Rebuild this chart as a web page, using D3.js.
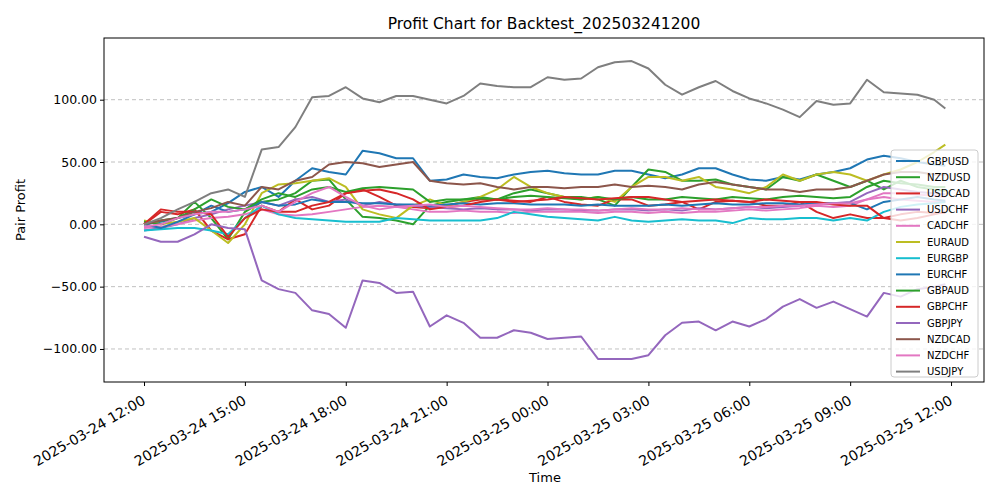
<!DOCTYPE html>
<html lang="en">
<head>
<meta charset="UTF-8">
<title>Profit Chart</title>
<script src="https://d3js.org/d3.v7.min.js"></script>
<style>
  body { margin: 0; background: #fff; }
  text { font-family: "DejaVu Sans", sans-serif; fill: #000; }
  .grid line { stroke: #b0b0b0; stroke-dasharray: 4,3; stroke-width: 0.8; }
  .series { fill: none; stroke-width: 2; stroke-linejoin: round; }
</style>
</head>
<body>
<svg id="chart" width="1000" height="500"></svg>
<script>
    // half-hour samples from 2025-03-24 12:00, last one at 11:50 next day
    const hours = d3.range(0, 24, 0.5).concat([23.83]);

    const pairs = ["GBPUSD","NZDUSD","USDCAD","USDCHF","CADCHF","EURAUD","EURGBP","EURCHF","GBPAUD","GBPCHF","GBPJPY","NZDCAD","NZDCHF","USDJPY"];
    const colors = ["#1f77b4","#2ca02c","#d62728","#9467bd","#e377c2","#bcbd22","#17becf","#1f77b4","#2ca02c","#d62728","#9467bd","#8c564b","#e377c2","#7f7f7f"];

    const GBPUSD = [0,2,5,8,10,17,26,30,22,35,45,42,40,59,57,53,53,35,36,40,38,37,40,42,43,41,40,40,43,43,40,37,40,45,45,40,36,35,38,36,40,42,45,52,55,53,50,48,47];
    const NZDUSD = [0,3,5,18,5,-12,10,18,20,25,35,36,20,6,5,3,0,15,18,20,22,20,25,28,25,22,22,20,15,30,44,42,35,35,36,32,30,28,38,35,40,35,30,35,28,35,30,28,27];
    const USDCAD = [0,10,8,12,-5,-12,-8,15,10,20,12,15,25,28,22,15,14,13,15,18,20,20,19,18,22,18,16,15,20,20,15,16,18,12,18,19,18,15,15,18,10,5,8,5,5,3,5,8,10];
    const USDCHF = [-5,-3,0,5,8,12,15,18,15,20,22,18,20,15,18,16,15,14,13,12,13,12,12,11,12,12,11,11,12,12,11,12,11,13,12,13,14,13,14,15,16,17,18,25,30,28,26,25,24];
    const CADCHF = [-3,-2,0,3,5,6,8,12,8,7,8,10,12,14,15,14,12,10,10,11,10,10,9,10,10,10,10,9,10,10,9,10,9,10,10,11,12,11,12,13,15,14,15,20,22,20,19,18,18];
    const EURAUD = [3,0,2,5,-5,-15,0,25,32,33,35,37,30,12,8,5,15,20,15,18,22,28,38,30,25,22,20,22,18,30,38,38,35,38,30,28,25,30,40,35,40,42,40,35,40,44,50,58,64];
    const EURGBP = [-5,-4,-3,-3,-5,-8,5,15,8,5,4,3,2,2,2,5,4,3,3,3,3,5,10,8,6,5,4,3,6,3,2,3,4,3,3,1,5,4,4,5,5,3,5,3,10,14,16,17,18];
    const EURCHF = [0,-3,2,8,15,10,12,18,15,16,20,18,18,17,17,16,16,15,16,17,16,17,17,16,16,16,15,16,15,15,15,16,15,16,17,16,16,17,17,16,17,17,17,12,18,20,22,20,19];
    const GBPAUD = [2,0,5,12,20,14,12,20,25,22,28,30,26,29,30,29,28,18,20,20,21,20,22,23,22,21,20,22,20,22,20,20,22,21,20,22,21,20,22,23,22,21,22,30,35,33,32,30,30];
    const GBPCHF = [0,12,10,10,8,-10,5,12,10,10,15,18,25,27,28,25,20,12,14,15,18,20,18,19,20,22,21,20,21,22,22,20,18,19,20,19,18,20,19,18,18,16,15,15,5,8,10,9,9];
    const GBPJPY = [-10,-14,-14,-8,0,-3,-4,-45,-52,-55,-69,-72,-83,-45,-47,-55,-54,-82,-73,-79,-91,-91,-85,-87,-92,-91,-90,-108,-108,-108,-105,-89,-79,-78,-85,-78,-82,-76,-66,-60,-67,-62,-68,-74,-55,-58,-52,-50,-48];
    const NZDCAD = [0,3,5,10,13,18,15,30,28,35,38,48,50,49,46,48,50,35,33,32,33,30,28,30,30,29,30,30,32,30,31,30,28,32,34,32,30,28,28,26,28,28,30,35,40,42,42,40,40];
    const NZDCHF = [-2,0,5,8,10,10,12,15,10,18,25,30,22,15,12,14,15,16,14,15,14,13,12,12,13,12,12,11,12,13,12,12,13,12,12,13,14,14,15,15,16,17,17,20,25,25,24,23,22];
    const USDJPY = [0,5,12,18,25,28,22,60,62,78,102,103,110,101,98,103,103,100,97,103,113,111,110,110,118,116,117,126,130,131,125,112,104,110,115,107,101,97,92,86,99,96,97,116,106,105,104,100,93];

    const seriesValues = [GBPUSD,NZDUSD,USDCAD,USDCHF,CADCHF,EURAUD,EURGBP,EURCHF,GBPAUD,GBPCHF,GBPJPY,NZDCAD,NZDCHF,USDJPY];
    const yTicks = [-100,-50,0,50,100];

    const start = Date.UTC(2025, 2, 24, 12, 0);
    const toDate = h => new Date(start + h * 3600e3);

    const svg = d3.select("#chart");
    const m = {left: 104, right: 984, top: 38, bottom: 382};

    const x = d3.scaleUtc()
        .domain([toDate(-1.19), toDate(24.98)])
        .range([m.left, m.right]);
    const y = d3.scaleLinear().domain([-126.5, 149.5]).range([m.bottom, m.top]);

    // grid
    svg.append("g").attr("class", "grid")
        .selectAll("line").data(yTicks).join("line")
        .attr("x1", m.left).attr("x2", m.right)
        .attr("y1", d => y(d)).attr("y2", d => y(d));

    // lines
    const line = d3.line().x((d, i) => x(toDate(hours[i]))).y(d => y(d));
    svg.append("g").selectAll("path").data(seriesValues).join("path")
        .attr("class", "series")
        .attr("stroke", (d, i) => colors[i])
        .attr("d", line);

    // frame
    svg.append("rect").attr("x", m.left).attr("y", m.top)
        .attr("width", m.right - m.left).attr("height", m.bottom - m.top)
        .attr("fill", "none").attr("stroke", "#000").attr("stroke-width", 1);

    // axes
    const fmt = d3.utcFormat("%Y-%m-%d %H:%M");
    const xAxis = svg.append("g").attr("transform", `translate(0,${m.bottom})`)
        .call(d3.axisBottom(x).ticks(d3.utcHour.every(3)).tickFormat(fmt).tickSizeOuter(0).tickSize(4));
    xAxis.select(".domain").remove();
    xAxis.selectAll("text")
        .style("font-size", "14px")
        .attr("text-anchor", "end")
        .attr("x", -9).attr("y", 9).attr("dy", "0.75em")
        .attr("transform", "rotate(-30)");

    const yAxis = svg.append("g").attr("transform", `translate(${m.left},0)`)
        .call(d3.axisLeft(y).tickValues(yTicks).tickFormat(d => d3.format(".2f")(d).replace("-", "\u2212")).tickSizeOuter(0).tickSize(4));
    yAxis.select(".domain").remove();
    yAxis.selectAll("text").style("font-size", "12.5px");

    svg.append("text").attr("x", 544).attr("y", 29).attr("text-anchor", "middle")
        .style("font-size", "15.5px").text("Profit Chart for Backtest_202503241200");
    svg.append("text").attr("x", 545).attr("y", 482).attr("text-anchor", "middle")
        .style("font-size", "13px").text("Time");
    svg.append("text").attr("transform", "translate(25,210) rotate(-90)").attr("text-anchor", "middle")
        .style("font-size", "13px").text("Pair Profit");

    // legend
    const lg = svg.append("g").attr("transform", "translate(891,150)");
    lg.append("rect").attr("width", 87).attr("height", 227).attr("rx", 3)
        .attr("fill", "#fff").attr("fill-opacity", 0.8).attr("stroke", "#ccc");
    const item = lg.selectAll("g.item").data(pairs).join("g").attr("class", "item")
        .attr("transform", (d, i) => `translate(0,${11 + i * 16.2})`);
    item.append("line").attr("x1", 5).attr("x2", 29).attr("stroke", (d, i) => colors[i]).attr("stroke-width", 2);
    item.append("text").attr("x", 36).attr("dy", "0.35em").style("font-size", "10px").text(d => d);
</script>
</body>
</html>
